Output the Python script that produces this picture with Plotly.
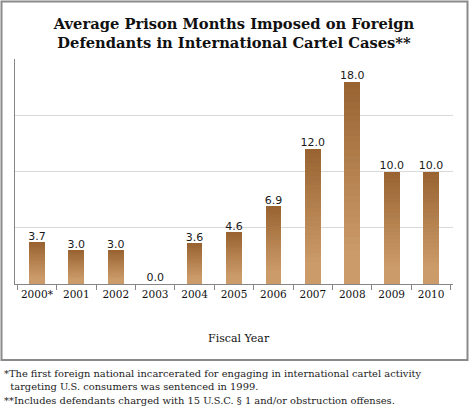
import plotly.graph_objects as go

# ---- data ----
years = ["2000*", "2001", "2002", "2003", "2004", "2005", "2006", "2007", "2008", "2009", "2010"]
months = [3.7, 3.0, 3.0, 0.0, 3.6, 4.6, 6.9, 12.0, 18.0, 10.0, 10.0]
labels = [f"{v:.1f}" for v in months]

title_text = "<b>Average Prison Months Imposed on Foreign<br>Defendants in International Cartel Cases**</b>"
x_title = "Fiscal Year"
notes = [
    "*The first foreign national incarcerated for engaging in international cartel activity",
    "\u00a0\u00a0targeting U.S. consumers was sentenced in 1999.",
    "**Includes defendants charged with 15 U.S.C. \u00a7 1 and/or obstruction offenses.",
]

# ---- gradient helper (bottom light -> top dark) ----
light = (204, 155, 106)
dark = (152, 99, 49)
N = 30

def mix(t):
    # t=0 bottom, t=1 top
    tt = max(0.0, (t - 0.15) / 0.85)
    return "rgb(%d,%d,%d)" % tuple(round(light[i] + (dark[i] - light[i]) * tt) for i in range(3))

fig = go.Figure()
for k in range(N):
    fig.add_trace(go.Bar(
        x=years,
        y=[v / N for v in months],
        marker=dict(color=mix((k + 0.5) / N), line=dict(width=0)),
        width=0.4,
        showlegend=False,
        hoverinfo="skip",
    ))

fig.add_trace(go.Scatter(
    x=years, y=months, text=labels, mode="text",
    textposition="top center",
    textfont=dict(family="DejaVu Sans", size=11, color="#1a1a1a"),
    showlegend=False, hoverinfo="skip", cliponaxis=False,
))

L, R, T, B = 15, 17, 59, 126
W, H = 470, 410
pw, ph = W - L - R, H - T - B

def px_x(x):
    return (x - L) / pw

def px_y(y):
    return (H - B - y) / ph

fig.update_layout(
    width=W, height=H,
    margin=dict(l=L, r=R, t=T, b=B, pad=0),
    paper_bgcolor="white", plot_bgcolor="white",
    barmode="stack", bargap=0.6,
    title=dict(text=title_text, x=0.5, xanchor="center", xref="paper",
               y=1 - 29 / H, yanchor="middle",
               font=dict(family="DejaVu Serif", size=14.7, color="#111111")),
    xaxis=dict(
        type="category", categoryorder="array", categoryarray=years,
        showline=True, linecolor="#868686", linewidth=1,
        ticks="outside", ticklen=5, tickcolor="#868686", tickson="boundaries",
        tickangle=0,
        tickfont=dict(family="DejaVu Serif", size=10.5, color="#111111"),
        showgrid=False, zeroline=False, fixedrange=True,
    ),
    yaxis=dict(
        range=[0, 20.03], tickvals=[0, 5, 10, 15, 20], showticklabels=False,
        showgrid=True, gridcolor="#d9d9d9", gridwidth=1,
        showline=True, linecolor="#868686", linewidth=1,
        zeroline=False, ticks="", fixedrange=True,
    ),
    shapes=[dict(type="rect", xref="paper", yref="paper",
                 x0=px_x(1.5), x1=px_x(467.5), y0=px_y(360), y1=px_y(1.5),
                 line=dict(color="#8a8a8a", width=2), fillcolor="rgba(0,0,0,0)", layer="above")],
    annotations=[
        dict(text=x_title, xref="paper", yref="paper", x=px_x(239), y=px_y(338),
             xanchor="center", yanchor="middle", showarrow=False,
             font=dict(family="DejaVu Serif", size=11, color="#111111")),
    ] + [
        dict(text=t, xref="paper", yref="paper", x=px_x(2), y=px_y(yy),
             xanchor="left", yanchor="middle", showarrow=False,
             font=dict(family="DejaVu Serif", size=9.9, color="#222222"))
        for t, yy in zip(notes, [373, 386.5, 400])
    ],
)

fig.write_html("out.html", config={"displayModeBar": False},
               post_script="document.body.style.margin='0';document.body.style.overflow='hidden';")
